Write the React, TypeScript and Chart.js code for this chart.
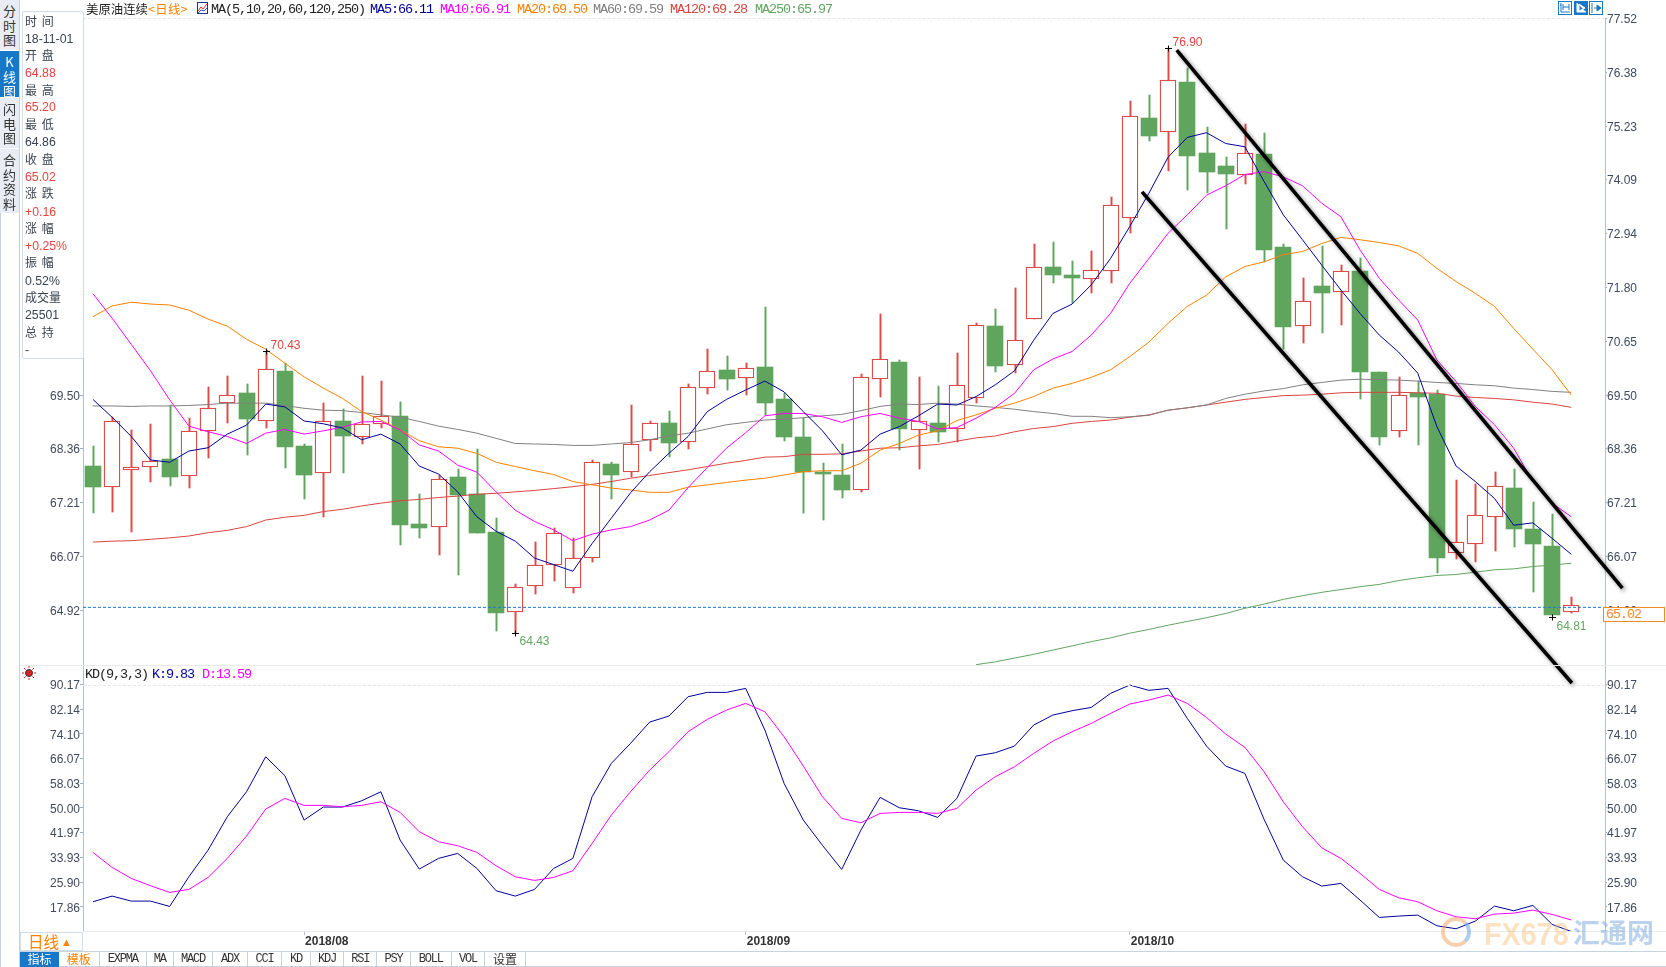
import React, { useEffect, useRef } from "react";
import { Chart, registerables } from "chart.js";

Chart.register(...registerables);

const opens = [67.99,67.55,67.91,67.98,68.14,67.77,68.73,69.34,69.55,68.96,70.01,68.42,67.84,68.95,68.60,68.88,69.05,66.76,66.70,67.76,67.39,66.59,64.89,65.43,65.88,65.39,66.03,68.03,67.87,68.54,68.91,68.50,69.66,70.04,69.86,70.10,69.41,68.61,67.86,67.80,67.49,69.85,70.21,68.75,68.91,68.77,69.43,70.97,70.15,71.12,72.23,72.06,71.98,72.15,73.27,75.40,75.10,76.17,74.66,74.38,74.18,74.64,72.66,70.97,71.83,71.69,72.15,69.99,68.73,69.55,69.52,66.13,66.32,66.90,67.52,66.65,66.29,64.88];
const highs = [68.42,69.03,68.76,68.89,69.29,69.01,69.67,69.91,69.74,70.43,70.19,68.47,69.33,69.20,69.91,69.80,69.35,67.40,67.81,67.93,68.35,66.88,65.47,66.37,66.66,66.45,68.12,68.07,69.29,68.95,69.16,69.74,70.48,70.33,70.18,71.37,69.54,69.01,68.05,68.47,69.96,71.23,70.25,69.88,69.70,70.39,71.03,71.33,71.78,72.72,72.76,72.36,72.57,73.72,75.77,75.89,76.90,76.47,75.21,74.57,75.28,75.08,72.73,72.00,72.68,72.27,72.42,70.00,69.88,69.81,69.62,67.69,67.61,67.86,67.92,67.22,66.97,65.20];
const lows = [67.00,67.02,66.59,67.66,67.57,67.53,68.17,68.91,68.23,68.79,67.95,67.29,66.91,67.85,68.47,68.79,66.30,66.46,66.10,65.67,66.56,64.48,64.43,65.27,65.55,65.29,65.95,67.29,67.76,68.31,68.19,68.36,69.53,69.62,69.51,69.07,68.53,66.98,66.84,67.32,67.44,69.46,68.34,67.93,68.50,68.51,69.34,70.00,69.98,71.12,71.88,71.46,71.68,71.88,72.95,74.92,74.28,73.87,73.81,73.04,74.00,72.34,70.48,70.62,70.83,71.00,69.42,68.44,68.60,68.44,65.72,66.02,65.95,66.17,66.27,65.31,64.81,64.86];
const closes = [67.55,68.94,67.96,68.09,67.76,68.73,69.22,69.50,68.99,70.05,68.40,67.81,68.94,68.64,68.88,69.05,66.74,66.66,67.71,67.37,66.57,64.85,65.41,65.88,66.56,66.03,68.07,67.81,68.47,68.90,68.49,69.67,70.01,69.85,70.07,69.34,68.60,67.86,67.83,67.49,69.88,70.26,68.77,68.94,68.72,69.71,70.99,70.13,70.67,72.24,72.05,72.00,72.16,73.54,75.45,75.03,76.21,74.60,74.26,74.20,74.65,72.60,70.96,71.50,71.68,72.14,69.99,68.60,69.50,69.47,66.04,66.37,66.94,67.57,66.64,66.32,64.82,65.02];

const ma5 = [69.41,69.03,68.62,68.12,68.07,68.31,68.38,68.67,68.86,69.31,69.25,68.95,68.89,68.80,68.55,68.67,68.46,67.99,67.82,67.44,66.91,66.60,66.39,66.03,65.89,65.75,66.34,66.88,67.42,67.87,68.26,68.62,69.15,69.41,69.61,69.80,69.57,69.15,68.74,68.23,68.33,68.67,68.83,69.06,69.31,69.29,69.47,69.72,70.02,70.67,71.24,71.44,71.85,72.41,73.09,73.80,74.57,74.99,75.09,74.86,74.79,74.05,73.34,72.81,72.27,71.74,71.24,70.78,70.42,69.97,68.83,67.99,67.66,67.30,66.73,66.78,66.45,66.11];
const ma10 = [71.66,71.14,70.58,70.02,69.40,68.84,68.72,68.62,68.47,68.69,68.77,68.67,68.74,68.82,68.93,68.94,68.76,68.44,68.31,68.01,67.86,67.44,67.05,66.81,66.63,66.40,66.54,66.63,66.70,66.84,67.05,67.53,67.96,68.37,68.70,69.06,69.11,69.11,69.04,68.92,69.04,69.11,69.01,68.94,68.78,68.81,69.01,69.24,69.54,70.04,70.27,70.43,70.78,71.24,71.88,72.41,72.95,73.34,73.76,73.96,74.20,74.26,74.15,73.96,73.59,73.30,72.59,71.99,71.53,71.10,70.25,69.79,69.26,68.87,68.37,67.66,67.20,66.91];
const ma20 = [71.17,71.40,71.48,71.44,71.42,71.31,71.12,70.97,70.69,70.48,70.18,69.89,69.65,69.43,69.15,68.97,68.76,68.53,68.40,68.37,68.26,68.07,67.98,67.89,67.81,67.66,67.59,67.52,67.48,67.43,67.43,67.54,67.59,67.64,67.69,67.73,67.80,67.87,67.89,67.89,68.05,68.33,68.47,68.65,68.74,68.96,69.08,69.22,69.33,69.47,69.65,69.75,69.88,70.04,70.32,70.63,71.03,71.39,71.63,72.02,72.24,72.34,72.49,72.56,72.73,72.86,72.81,72.75,72.68,72.52,72.20,71.92,71.67,71.39,70.92,70.48,70.04,69.50];
const ma60 = [69.27,69.27,69.26,69.27,69.27,69.28,69.30,69.33,69.33,69.33,69.28,69.22,69.18,69.17,69.13,69.08,69.03,68.94,68.84,68.77,68.69,68.58,68.47,68.46,68.45,68.43,68.43,68.46,68.49,68.55,68.63,68.69,68.78,68.87,68.92,68.97,68.99,69.02,69.06,69.09,69.17,69.26,69.31,69.30,69.33,69.31,69.27,69.24,69.20,69.15,69.11,69.05,69.05,69.02,69.04,69.07,69.18,69.23,69.29,69.43,69.52,69.59,69.64,69.72,69.77,69.82,69.84,69.83,69.82,69.80,69.77,69.75,69.72,69.70,69.65,69.62,69.58,69.56];
const ma120 = [66.37,66.39,66.40,66.43,66.46,66.50,66.57,66.62,66.70,66.84,66.90,66.94,67.02,67.07,67.14,67.20,67.25,67.28,67.32,67.35,67.39,67.41,67.44,67.47,67.51,67.55,67.60,67.66,67.73,67.79,67.85,67.91,67.98,68.05,68.11,68.18,68.19,68.24,68.24,68.25,68.31,68.37,68.38,68.42,68.45,68.52,68.59,68.63,68.72,68.79,68.83,68.90,68.94,68.97,69.03,69.08,69.18,69.23,69.29,69.35,69.41,69.45,69.49,69.50,69.52,69.55,69.56,69.56,69.56,69.55,69.54,69.48,69.45,69.43,69.40,69.35,69.31,69.24];
const ma250: (number | null)[] = [null,null,null,null,null,null,null,null,null,null,null,null,null,null,null,null,null,null,null,null,null,null,null,null,null,null,null,null,null,null,null,null,null,null,null,null,null,null,null,null,null,null,null,null,null,null,63.76,63.82,63.90,63.98,64.07,64.16,64.25,64.33,64.43,64.51,64.60,64.68,64.76,64.85,64.96,65.05,65.15,65.23,65.30,65.36,65.42,65.47,65.55,65.61,65.66,65.68,65.73,65.78,65.80,65.85,65.88,65.92];

const kdK = [19.51,21.35,19.72,19.72,17.99,27.64,36.30,47.14,55.27,66.65,60.47,46.06,50.29,50.29,52.34,55.27,39.56,30.13,33.60,35.22,30.34,23.08,21.35,23.52,30.34,33.60,53.65,64.48,70.99,77.92,79.87,86.16,87.57,87.57,88.87,75.32,57.98,46.06,37.82,30.02,42.81,53.43,50.07,49.09,46.93,53.10,66.87,67.95,70.12,76.95,80.20,81.61,82.69,87.24,89.95,88.22,88.87,79.11,70.12,63.62,61.23,46.28,33.05,27.64,24.60,25.47,20.05,14.41,14.85,15.17,11.70,10.73,13.22,18.10,16.58,18.31,12.14,9.83];
const kdD = [35.55,30.67,27.09,24.71,22.54,23.52,27.42,33.60,40.86,49.64,53.10,50.83,50.83,50.39,50.83,52.02,48.55,42.27,39.01,37.71,35.55,31.21,27.63,26.44,27.42,29.59,38.47,47.68,55.27,62.32,68.28,74.78,78.79,81.82,83.99,81.28,73.15,63.62,53.65,46.60,45.19,48.23,48.55,48.55,48.23,49.85,55.81,60.15,63.40,67.73,71.74,74.78,77.49,80.74,83.77,85.08,86.70,83.99,79.44,74.02,69.69,61.77,52.02,43.89,37.06,33.60,28.72,23.52,20.81,19.51,16.58,14.63,13.98,15.50,15.82,16.80,15.39,13.59];

const mainTicks = [64.92,66.07,67.21,68.36,69.50,70.65,71.80,72.94,74.09,75.23,76.38,77.52];
const mainLeftTicks = [64.92,66.07,67.21,68.36,69.50];
const kdTicks = [17.86,25.90,33.93,41.97,50.00,58.03,66.07,74.10,82.14,90.17];
const monthTickIndex = [11, 34, 54];
const monthTickLabels = ["2018/08", "2018/09", "2018/10"];

// trend channel, in [candle index, price]
const upperTrend = [[56.45, 76.85], [79.66, 65.39]];
const lowerTrend = [[54.64, 73.83], [77.03, 63.37]];
const lastPriceLevel = 64.98;

// high / low annotations: [candle index, marker price, label]
const extremes: [number, number, string, number][] = [
  [56, 76.90, "76.90", -6.2],
  [9, 70.43, "70.43", -6],
  [22, 64.43, "64.43", 8.5],
  [76, 64.78, "64.81", 9],
];

const C = {
  red: "#dc4b47",
  green: "#60a55e",
  ma5: "#00009c",
  ma10: "#ff00ff",
  ma20: "#ff8000",
  ma60: "#808080",
  ma120: "#d9443f",
  ma250: "#60a55e",
  tick: "#3f4a5c",
  axis: "#b4c0cc",
};

const pts = (a: (number | null)[]) =>
  a.map((v, i) => (v == null ? null : { x: i, y: v })).filter(Boolean) as { x: number; y: number }[];
const linePts = (a: number[][]) => a.map(([x, y]) => ({ x, y }));
const isUp = opens.map((o, i) => closes[i] >= o);

function maLine(label: string, data: (number | null)[], color: string, yAxisID: string, order = 3) {
  return {
    type: "line" as const,
    label,
    data: pts(data),
    borderColor: color,
    borderWidth: 1,
    pointRadius: 0,
    tension: 0,
    xAxisID: "x",
    yAxisID,
    order,
  };
}

const snapPlugin = {
  id: "snapBars",
  beforeDatasetDraw(chart: any, args: any) {
    const meta = args.meta;
    if (meta.type !== "bar") return;
    const wick = meta.label === "wick";
    meta.data.forEach((el: any) => {
      el.x = Math.round(el.x) + (wick ? 0.5 : 0);
      el.y = Math.round(el.y);
      el.base = Math.round(el.base);
    });
  },
};

// stacked axes: let the zero-width scales of the lower panel paint labels outside their own box
const axisAreaPlugin = {
  id: "axisArea",
  afterLayout(chart: any) {
    chart.scales.yKd.left = 0;
    chart.scales.yKdR.right = chart.width;
  },
};

const shadowPlugin = {
  id: "trendShadow",
  beforeDatasetDraw(chart: any, args: any) {
    if (args.meta.label !== "trend") return;
    const c = chart.ctx;
    c.save();
    c.shadowColor = "rgba(0,0,0,0.45)";
    c.shadowBlur = 4;
    c.shadowOffsetX = 2;
    c.shadowOffsetY = 2;
  },
  afterDatasetDraw(chart: any, args: any) {
    if (args.meta.label !== "trend") return;
    chart.ctx.restore();
  },
};

const extremesPlugin = {
  id: "extremes",
  afterDatasetsDraw(chart: any) {
    const { ctx, scales } = chart;
    ctx.save();
    ctx.font = "12px 'Liberation Sans'";
    ctx.textAlign = "left";
    ctx.textBaseline = "middle";
    extremes.forEach(([i, v, text, dy]) => {
      const x = Math.round(scales.x.getPixelForValue(i)) + 0.5;
      const y = Math.round(scales.yMain.getPixelForValue(v)) + 0.5;
      ctx.strokeStyle = "#000";
      ctx.lineWidth = 1;
      ctx.beginPath();
      ctx.moveTo(x - 3.5, y);
      ctx.lineTo(x + 3.5, y);
      ctx.moveTo(x, y - 3);
      ctx.lineTo(x, y + 3);
      ctx.stroke();
      ctx.fillStyle = dy < 0 ? "#e0453f" : "#63a860";
      ctx.fillText(text, x + 4, y + dy);
    });
    ctx.restore();
  },
};

const fixWidth = (w: number) => (s: any) => {
  s.width = w;
};

const tickFont = { family: "'Liberation Sans'", size: 12 };

function yScale(min: number, max: number, ticks: number[], position: string, width: number, weight: number, border: boolean, tickLength: number) {
  return {
    type: "linear",
    position,
    min,
    max,
    weight,
    afterFit: fixWidth(width),
    afterBuildTicks: (s: any) => {
      s.ticks = ticks.map((value) => ({ value }));
    },
    ticks: {
      padding: 0,
      labelOffset: 1.5,
      autoSkip: false,
      color: C.tick,
      font: tickFont,
      callback: (v: number) => v.toFixed(2),
    },
    border: { display: border, color: C.axis, dash: [1, 9] },
    grid: { drawOnChartArea: false, drawTicks: true, tickLength, color: "#9fb0c0" },
  };
}

const abs = (left: number, top: number, extra: React.CSSProperties = {}): React.CSSProperties => ({
  position: "absolute",
  left,
  top,
  whiteSpace: "nowrap",
  ...extra,
});

const mono = "'Liberation Mono', 'Noto Sans CJK SC', monospace";
const cjk = "'Noto Sans CJK SC', sans-serif";
const sans = "'Liberation Sans', sans-serif";

const headerItems: [number, string, string][] = [
  [211, "MA(5,10,20,60,120,250)", "#222"],
  [370, "MA5:66.11", C.ma5],
  [440, "MA10:66.91", C.ma10],
  [517, "MA20:69.50", C.ma20],
  [593, "MA60:69.59", C.ma60],
  [670, "MA120:69.28", "#d9443f"],
  [755, "MA250:65.97", C.ma250],
];
const kdItems: [number, string, string][] = [
  [85, "KD(9,3,3)", "#222"],
  [152, "K:9.83", C.ma5],
  [202, "D:13.59", C.ma10],
];
const infoRows: [number, string, boolean][] = [
  [21, "时 间", false],
  [39, "18-11-01", false],
  [55, "开 盘", false],
  [73, "64.88", true],
  [90, "最 高", false],
  [107, "65.20", true],
  [124, "最 低", false],
  [142, "64.86", false],
  [159, "收 盘", false],
  [177, "65.02", true],
  [193, "涨 跌", false],
  [212, "+0.16", true],
  [228, "涨 幅", false],
  [246, "+0.25%", true],
  [262, "振 幅", false],
  [281, "0.52%", false],
  [297, "成交量", false],
  [315, "25501", false],
  [332, "总 持", false],
  [350, "-", false],
];
const sideTabs: [number, number, string, boolean][] = [
  [0, 50, "分时图", false],
  [51, 46, "K线图", true],
  [98, 50, "闪电图", false],
  [149, 64, "合约资料", false],
];
const bottomTabs: [number, number, string][] = [
  [59, 99.5, "模板"],
  [99.5, 147, "EXPMA"],
  [147, 173.6, "MA"],
  [173.6, 213.3, "MACD"],
  [213.3, 247.8, "ADX"],
  [247.8, 282, "CCI"],
  [282, 311, "KD"],
  [311, 344, "KDJ"],
  [344, 377.4, "RSI"],
  [377.4, 410.8, "PSY"],
  [410.8, 451.6, "BOLL"],
  [451.6, 485.4, "VOL"],
  [485.4, 525.7, "设置"],
];

export default function App() {
  const ref = useRef<HTMLCanvasElement>(null);
  useEffect(() => {
    const xMin = -0.5156;
    const xMax = 78.755;
    const chart = new Chart(ref.current as HTMLCanvasElement, {
      type: "bar",
      plugins: [snapPlugin, axisAreaPlugin, shadowPlugin, extremesPlugin],
      data: {
        datasets: [
          {
            type: "bar",
            label: "wick",
            data: lows.map((l, i) => ({ x: i, y: [l, highs[i]] })),
            backgroundColor: isUp.map((u) => (u ? C.red : C.green)),
            borderWidth: 0,
            barThickness: 1.3,
            grouped: false,
            xAxisID: "x",
            yAxisID: "yMain",
            order: 20,
          },
          {
            type: "bar",
            label: "body",
            data: opens.map((o, i) => ({ x: i, y: [o, closes[i]] })),
            backgroundColor: isUp.map((u) => (u ? "#ffffff" : C.green)),
            borderColor: isUp.map((u) => (u ? C.red : C.green)),
            borderWidth: isUp.map((u) => (u ? 1.3 : 0)),
            borderSkipped: false,
            barThickness: 16,
            grouped: false,
            xAxisID: "x",
            yAxisID: "yMain",
            order: 10,
          },
          {
            type: "line",
            label: "last",
            data: [{ x: xMin, y: lastPriceLevel }, { x: xMax, y: lastPriceLevel }],
            borderColor: "#1f78e0",
            borderWidth: 1,
            borderDash: [3, 2],
            pointRadius: 0,
            xAxisID: "x",
            yAxisID: "yMain",
            order: 9,
          },
          maLine("MA250", ma250, C.ma250, "yMain", 8),
          maLine("MA120", ma120, C.ma120, "yMain", 7),
          maLine("MA60", ma60, C.ma60, "yMain", 6),
          maLine("MA20", ma20, C.ma20, "yMain", 5),
          maLine("MA10", ma10, C.ma10, "yMain", 4),
          maLine("MA5", ma5, C.ma5, "yMain", 3),
          maLine("K", kdK, C.ma5, "yKd", 3),
          maLine("D", kdD, C.ma10, "yKd", 2),
          {
            type: "line",
            label: "trend",
            data: linePts(upperTrend),
            borderColor: "#000",
            borderWidth: 3.6,
            pointRadius: 0,
            clip: false,
            xAxisID: "x",
            yAxisID: "yMain",
            order: 1,
          },
          {
            type: "line",
            label: "trend",
            data: linePts(lowerTrend),
            borderColor: "#000",
            borderWidth: 3.6,
            pointRadius: 0,
            clip: false,
            xAxisID: "x",
            yAxisID: "yMain",
            order: 1,
          },
        ],
      } as any,
      options: {
        animation: false,
        responsive: false,
        devicePixelRatio: 1,
        layout: { autoPadding: false, padding: { top: 18, left: 0, right: 0, bottom: 0 } },
        plugins: { legend: { display: false }, tooltip: { enabled: false } },
        scales: {
          x: {
            type: "linear",
            position: "bottom",
            min: xMin,
            max: xMax,
            offset: false,
            afterFit: (s: any) => {
              s.height = 36;
            },
            afterBuildTicks: (s: any) => {
              s.ticks = monthTickIndex.map((value) => ({ value }));
            },
            ticks: {
              autoSkip: false,
              maxRotation: 0,
              minRotation: 0,
              align: "start",
              labelOffset: 1,
              padding: -1,
              color: "#333",
              font: { family: "'Liberation Sans'", size: 12, weight: "bold" },
              callback: (v: number) => monthTickLabels[monthTickIndex.indexOf(v)],
            },
            border: { display: false },
            grid: { offset: false, drawOnChartArea: false, drawTicks: true, tickLength: 4, color: "#b8c2cc" },
          },
          yMain: yScale(58.087, 77.533, mainLeftTicks, "left", 83, 1, true, 3),
          yKd: yScale(10.0, 306.8, kdTicks, "left", 0, 0, false, 3),
          yMainR: yScale(58.087, 77.533, mainTicks, "right", 61, 1, true, 2),
          yKdR: yScale(10.0, 306.8, kdTicks, "right", 0, 0, false, 2),
        },
      } as any,
    });
    return () => chart.destroy();
  }, []);

  const hLine = (top: number, left: number, right: number, color: string, dashed = false) => (
    <div
      style={{
        position: "absolute",
        left,
        top,
        width: right - left,
        height: 0,
        borderTop: `1px ${dashed ? "dashed" : "solid"} ${color}`,
      }}
    />
  );

  const monoText: React.CSSProperties = { font: `13.5px/17px ${mono}`, letterSpacing: -1.1 };

  return (
    <div style={{ position: "absolute", left: 0, top: 0, width: 1666, height: 967, background: "#fff", overflow: "hidden" }}>
      <canvas ref={ref} width={1666} height={967} style={{ position: "absolute", left: 0, top: 0, display: "block" }} />

      {/* frame lines */}
      {hLine(18, 83, 1605, "#e6e6e6", true)}
      {hLine(685, 83, 1605, "#e6e6e6", true)}
      {hLine(665, 20, 1666, "#e8eaec")}
      {hLine(931, 83, 1666, "#e8eaec")}
      {hLine(951, 20, 1666, "#c6d2de")}
      {hLine(966, 20, 1666, "#c6d2de")}
      <div style={{ position: "absolute", left: 0, top: 213, width: 1, height: 754, background: "#c6d2de" }} />
      <div style={{ position: "absolute", left: 19, top: 0, width: 1, height: 967, background: "#c6d2de" }} />

      {/* side tabs */}
      {sideTabs.map(([top, h, text, on]) => (
        <div
          key={text}
          style={{
            position: "absolute",
            left: 0,
            top,
            width: 19,
            height: h,
            background: on ? "#1878c8" : "#e9edf3",
            color: on ? "#fff" : "#333",
            font: `13px/14.5px ${cjk}`,
            textAlign: "center",
            paddingTop: 4,
            boxSizing: "border-box",
          }}
        >
          {Array.from(text).map((ch, i) => (
            <div key={i}>{ch}</div>
          ))}
        </div>
      ))}

      {/* info panel */}
      <div style={{ position: "absolute", left: 22, top: 11, width: 60, height: 346, border: "1px solid #d3dde8", borderRadius: 2, background: "#fff" }} />
      {infoRows.map(([y, text, red], i) => {
        const isCjk = /[\u4e00-\u9fff]/.test(text);
        return (
          <div
            key={i}
            style={abs(25, y - 8, {
              font: `${isCjk ? 12 : 12.3}px/16px ${isCjk ? cjk : sans}`,
              color: red ? "#e8443f" : "#3a4350",
              wordSpacing: 2,
            })}
          >
            {text}
          </div>
        );
      })}

      {/* header */}
      <div style={abs(86, 1, { font: `12.4px/17px ${cjk}`, color: "#222" })}>
        美原油连续<span style={{ color: C.ma20, letterSpacing: 0.4 }}>&lt;日线&gt;</span>
      </div>
      <svg style={{ position: "absolute", left: 197, top: 2 }} width="12" height="13">
        <rect x="0.5" y="0.5" width="10" height="11" fill="#fff" stroke="#223388" />
        <path d="M1 9 L4 5 L6 7 L10 2" fill="none" stroke="#e03030" />
        <path d="M1 11 L4 8 L7 9 L10 6" fill="none" stroke="#3050c0" />
      </svg>
      {headerItems.map(([x, t, c]) => (
        <div key={t} style={abs(x, 1, { ...monoText, color: c })}>{t}</div>
      ))}

      {/* toolbar icons */}
      {[1558, 1574, 1589].map((x, i) => (
        <svg key={x} style={{ position: "absolute", left: x, top: 1 }} width="15" height="14">
          <rect x="0.5" y="0.5" width="13" height="13" fill={i === 1 ? "#1878c8" : "#fff"} stroke="#1878c8" />
          {i === 0 && <path d="M3 2 V11 H12 M3 4 H2 M5 3 V9 M11 3 V9 M5 6 H11" fill="none" stroke="#1878c8" />}
          {i === 1 && <path d="M3 2 V11 H12 M5 3 L11 7 L5 10 Z" fill="#fff" stroke="#fff" />}
          {i === 2 && <path d="M3 2 V12 M5 7 H8 V4 L12 7 L8 10 V7" fill="#1878c8" stroke="#1878c8" />}
        </svg>
      ))}

      {/* KD header */}
      <svg style={{ position: "absolute", left: 21, top: 665 }} width="16" height="16">
        <g stroke="#e02020" strokeWidth="1">
          <path d="M8 1V3M8 13V15M1 8H3M13 8H15M3 3L4.5 4.5M13 3L11.5 4.5M3 13L4.5 11.5M13 13L11.5 11.5" />
        </g>
        <circle cx="8" cy="8" r="3.5" fill="#e02020" stroke="#333" />
      </svg>
      {kdItems.map(([x, t, c]) => (
        <div key={t} style={abs(x, 666, { ...monoText, color: c })}>{t}</div>
      ))}

      {/* last price box */}
      <div
        style={{
          position: "absolute",
          left: 1603,
          top: 607,
          width: 62,
          height: 15,
          boxSizing: "border-box",
          border: "1px solid #f08a24",
          background: "#fff",
          color: "#f08a24",
          font: `13.5px/13px ${mono}`,
          letterSpacing: -1.1,
          paddingLeft: 2,
        }}
      >
        65.02
      </div>

      {/* period selector */}
      <div style={{ position: "absolute", left: 20, top: 932, width: 63, height: 19, background: "#fff", border: "1px solid #d3dde8", boxSizing: "border-box" }} />
      <div style={abs(28, 932, { font: `15.5px/19px ${cjk}`, color: "#ff8000" })}>日线</div>
      <div style={abs(61, 934, { font: `11px/16px ${sans}`, color: "#ff8000" })}>▲</div>

      {/* bottom tabs */}
      <div style={{ position: "absolute", left: 20, top: 952, width: 39, height: 15, background: "#1878c8", color: "#fff", textAlign: "center", font: `12px/14px ${cjk}` }}>指标</div>
      {bottomTabs.map(([l, r, t]) => (
        <div
          key={t}
          style={{
            position: "absolute",
            left: l,
            top: 952,
            width: r - l,
            height: 14,
            boxSizing: "border-box",
            borderRight: "1px solid #c6d2de",
            textAlign: "center",
            color: t === "模板" ? "#ff8000" : "#333",
            font: /[A-Z]/.test(t) ? `12px/14px ${mono}` : `12px/14px ${cjk}`,
            letterSpacing: /[A-Z]/.test(t) ? -1.2 : 0,
          }}
        >
          {t}
        </div>
      ))}

      {/* watermark */}
      <div style={{ position: "absolute", left: 1441, top: 917, width: 30, height: 30, borderRadius: "50%", border: "4px solid rgba(240,160,90,0.5)", borderRightColor: "rgba(120,170,225,0.6)", boxSizing: "border-box" }} />
      <div style={abs(1484, 914, { font: `bold 32px/40px ${sans}`, color: "rgba(245,190,120,0.45)", transform: "scaleX(0.9)", transformOrigin: "left" })}>FX678</div>
      <div style={abs(1573, 914, { font: `bold 27px/36px ${cjk}`, color: "rgba(120,165,220,0.5)" })}>汇通网</div>
    </div>
  );
}
